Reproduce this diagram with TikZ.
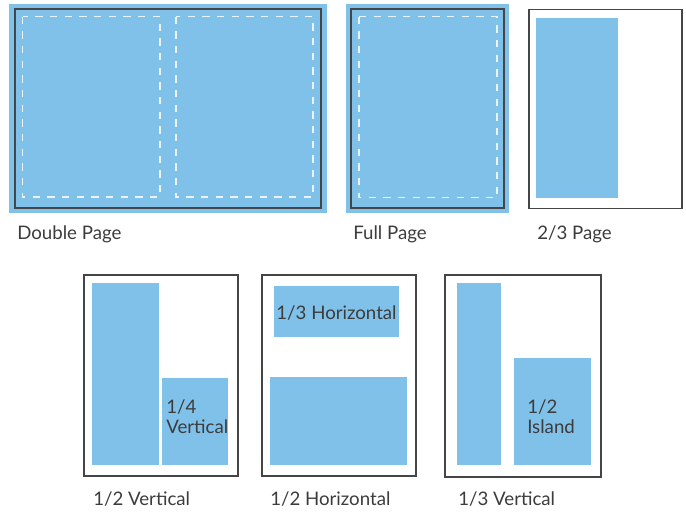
\documentclass[tikz,border=0pt]{standalone}
\usepackage{fontspec}
\setmainfont{Lato}
\definecolor{adblue}{HTML}{80C1EA}
\definecolor{edge}{HTML}{454545}
\definecolor{ink}{HTML}{3C3C3C}
\definecolor{trimline}{HTML}{EAF3FA}
\begin{document}
\begin{tikzpicture}[x=0.75pt, y=-0.75pt,
    bleed/.style={fill=adblue},
    pagebox/.style={draw=edge, line width=1pt},
    adbox/.style={fill=adblue},
    trim/.style={draw=trimline, line width=1.2pt, dash pattern=on 5.5pt off 5.5pt},
    caption/.style={anchor=base west, inner sep=0pt, text=ink, font=\fontsize{14}{15}\selectfont},
    adtext/.style={caption, align=left}]
  \useasboundingbox (0,0) rectangle (686,511);

  % top row
  \begin{scope}
    \path[bleed] (9,4) rectangle (327,213);
    \path[pagebox] (15,9) rectangle (321,208);
    \path[trim] (22.5,16.5) rectangle (160,197);
    \path[trim] (176,16.5) rectangle (313,197);
    \node[caption] (double) at (17,239) {Double Page};
  \end{scope}

  \begin{scope}
    \path[bleed] (346,4) rectangle (509,213);
    \path[pagebox] (351,9) rectangle (504,208);
    \path[trim] (359,16.5) rectangle (497,197.5);
    \node[caption] (full) at (353,239) {Full Page};
  \end{scope}

  \begin{scope}
    \path[pagebox, fill=white] (529,9.5) rectangle (682,208.5);
    \path[adbox] (536,18) rectangle (618,198);
    \node[caption] (twothirds) at (537,239) {2/3 Page};
  \end{scope}

  % bottom row
  \begin{scope}
    \path[pagebox] (84,275) rectangle (238,476);
    \path[adbox] (92,283) rectangle (159,465);
    \path[adbox] (162,378) rectangle (228,465);
    \node[adtext] (quarter) at (166,433) {1/4\\Vertical};
    \node[caption] (halfvert) at (93,505) {1/2 Vertical};
  \end{scope}

  \begin{scope}
    \path[pagebox] (262,275) rectangle (416,476);
    \path[adbox] (274,286) rectangle (399,337);
    \path[adbox] (270,377) rectangle (407,465);
    \node[caption, anchor=base] (thirdhoriz) at (336.5,319) {1/3 Horizontal};
    \node[caption] (halfhoriz) at (270,505) {1/2 Horizontal};
  \end{scope}

  \begin{scope}
    \path[pagebox] (445,275) rectangle (601,477);
    \path[adbox] (457,283) rectangle (501,465);
    \path[adbox] (514,358) rectangle (591,465);
    \node[adtext] (island) at (527,433) {1/2\\Island};
    \node[caption] (thirdvert) at (458,505) {1/3 Vertical};
  \end{scope}
\end{tikzpicture}
\end{document}
